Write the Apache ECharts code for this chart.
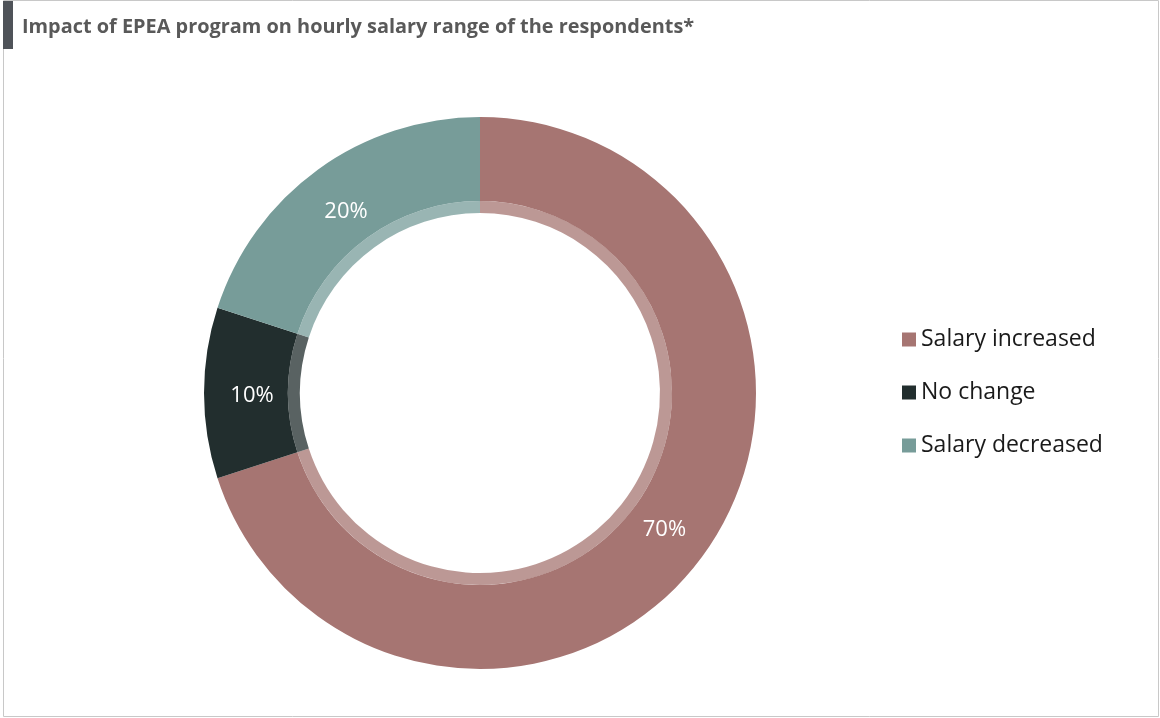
<!DOCTYPE html>
<html>
<head>
<meta charset="utf-8">
<script src="https://cdn.jsdelivr.net/npm/echarts@6/dist/echarts.min.js"></script>
<style>
  html, body { margin: 0; padding: 0; background: #ffffff; }
  #chart { width: 1160px; height: 718px; }
</style>
</head>
<body>
<div id="chart"></div>
<script>
// Survey result: change in hourly salary range after the EPEA program
const categories = ['Salary increased', 'No change', 'Salary decreased'];
const shares = [70, 10, 20];
const colors = ['#A67572', '#222E2E', '#779C99'];
const titleText = 'Impact of EPEA program on hourly salary range of the respondents*';

const pieData = categories.map((name, i) => ({ name: name, value: shares[i] }));
const baseFont = '"Open Sans", Lato, sans-serif';

const chart = echarts.init(document.getElementById('chart'), null, { renderer: 'canvas' });

chart.setOption({
  animation: false,
  color: colors,
  graphic: [
    {
      type: 'rect',
      shape: { x: 3.5, y: 0.5, width: 1155, height: 716 },
      style: { fill: 'none', stroke: '#c8c8c8', lineWidth: 1 },
      silent: true
    },
    {
      type: 'rect',
      shape: { x: 3, y: 1, width: 10, height: 48 },
      style: { fill: '#4f5359' },
      silent: true
    },
    {
      type: 'text',
      left: 22,
      top: 17,
      style: {
        text: titleText,
        fill: '#595959',
        font: 'bold 19.9px ' + baseFont
      },
      silent: true
    }
  ],
  legend: {
    orient: 'vertical',
    left: 897,
    top: 323,
    itemWidth: 14,
    itemHeight: 14,
    itemGap: 30,
    icon: 'rect',
    textStyle: {
      fontSize: 23,
      color: '#1a1a1a',
      fontFamily: baseFont
    },
    data: categories
  },
  series: [
    {
      type: 'pie',
      center: [480, 393],
      radius: [192, 276],
      startAngle: 90,
      clockwise: true,
      data: pieData,
      itemStyle: { borderWidth: 0 },
      label: { show: false },
      labelLine: { show: false },
      emphasis: { disabled: true }
    },
    {
      // lighter inner band of the ring
      type: 'pie',
      center: [480, 393],
      radius: [180, 192],
      startAngle: 90,
      clockwise: true,
      data: pieData,
      itemStyle: { borderWidth: 0, opacity: 0.75 },
      label: { show: false },
      labelLine: { show: false },
      emphasis: { disabled: true },
      legendHoverLink: false
    },
    {
      // percentage labels, centred across the whole ring width
      type: 'pie',
      center: [480, 393],
      radius: [174, 276],
      startAngle: 90,
      clockwise: true,
      data: pieData,
      z: 5,
      itemStyle: { color: 'rgba(0,0,0,0)', borderWidth: 0 },
      label: {
        show: true,
        position: 'inside',
        formatter: '{c}%',
        color: '#ffffff',
        fontSize: 22,
        fontFamily: baseFont,
        offset: [0, 3]
      },
      labelLine: { show: false },
      emphasis: { disabled: true },
      legendHoverLink: false
    }
  ]
});
</script>
</body>
</html>
